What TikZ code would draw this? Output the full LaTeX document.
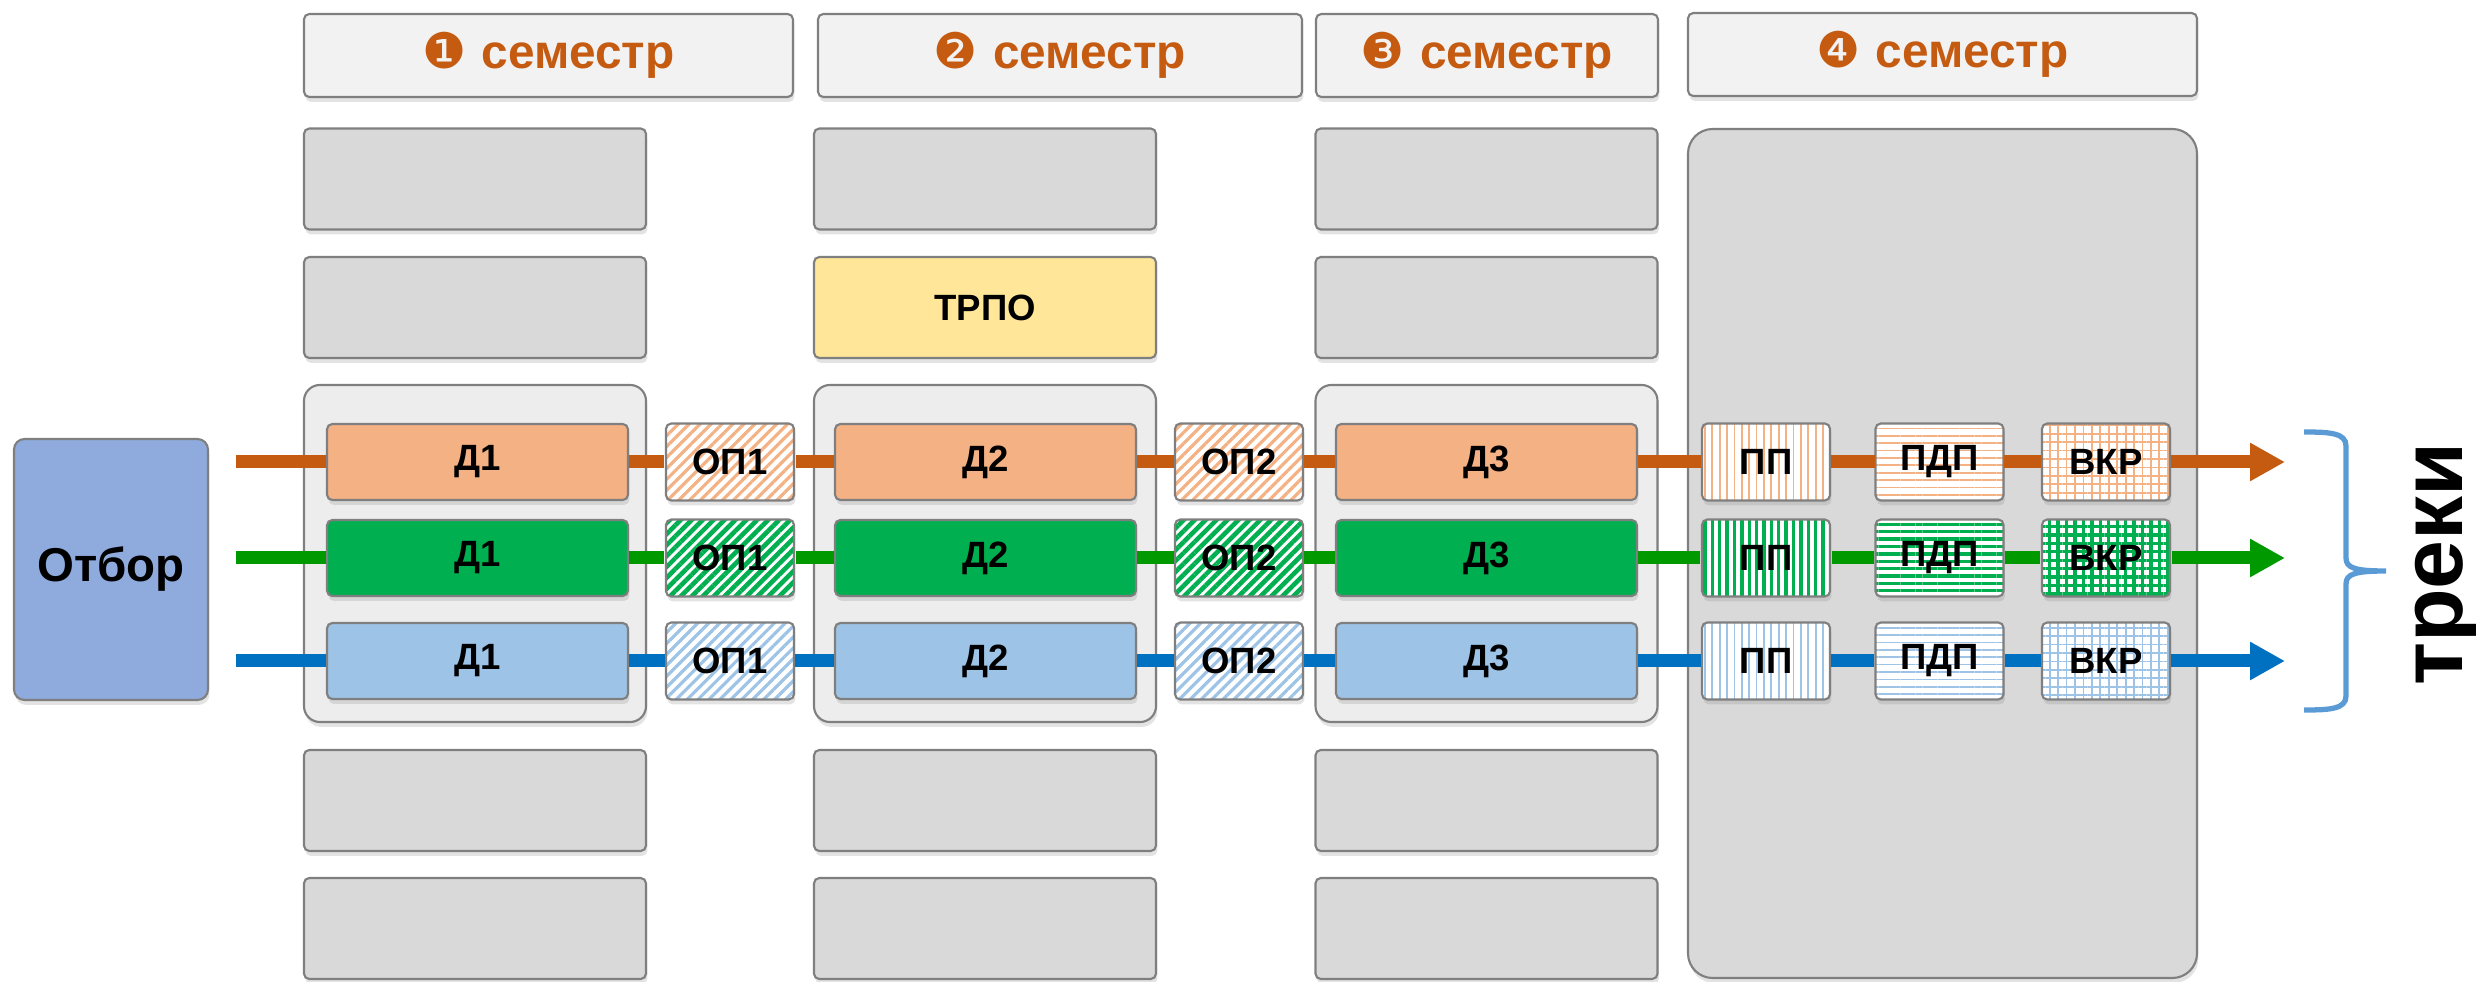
\documentclass[tikz,border=0pt]{standalone}
\usepackage{fontspec}
\setmainfont{Liberation Sans}
\newfontfamily\dingfont{DejaVu Sans}
\usepackage{tikz}
\usetikzlibrary{arrows.meta, positioning, shadows, patterns.meta}
\definecolor{semorange}{HTML}{C55A11}
\definecolor{hdrfill}{HTML}{F2F2F2}
\definecolor{slotgrey}{HTML}{D9D9D9}
\definecolor{trackbg}{HTML}{EDEDED}
\definecolor{edgegrey}{HTML}{7F7F7F}
\definecolor{selblue}{HTML}{8FAADC}
\definecolor{trpoyellow}{HTML}{FFE699}
\definecolor{lineorange}{HTML}{C55A11}
\definecolor{fillorange}{HTML}{F4B183}
\definecolor{linegreen}{HTML}{009A00}
\definecolor{fillgreen}{HTML}{00B050}
\definecolor{lineblue}{HTML}{0070C0}
\definecolor{fillblue}{HTML}{9DC3E6}
\definecolor{bracebl}{HTML}{5B9BD5}

\begin{document}
\begin{tikzpicture}[
    x=1cm, y=-1cm,
    base/.style={rectangle, draw=edgegrey, line width=0.6pt, rounded corners=1.5pt, inner sep=0pt, align=center, drop shadow={opacity=0.22, shadow xshift=0.4pt, shadow yshift=-1.4pt}, font=\fontsize{10.4}{12}\selectfont\bfseries},
    header/.style={base, fill=hdrfill, minimum height=0.83cm, text=semorange, font=\fontsize{13.6}{15}\selectfont\bfseries},
    slot/.style={base, fill=slotgrey, minimum width=3.42cm, minimum height=1.01cm},
    track/.style={base, fill=trackbg, rounded corners=4.5pt, minimum width=3.42cm, minimum height=3.37cm},
    disc/.style={base, minimum width=3.01cm, minimum height=0.76cm},
    practice/.style={base, minimum width=1.28cm, minimum height=0.77cm, preaction={fill=white}},
    line/.style={line width=0.13cm}
  ]
    \useasboundingbox (0,0) rectangle (24.76,9.82);

    % semester headers
    \node (hd1) [header, minimum width=4.89cm] at (5.485,0.555) {{\dingfont\mdseries\fontsize{14}{14}\selectfont ❶}\hspace{0.15cm}семестр};
    \node (hd2) [header, minimum width=4.84cm] at (10.60,0.555) {{\dingfont\mdseries\fontsize{14}{14}\selectfont ❷}\hspace{0.15cm}семестр};
    \node (hd3) [header, minimum width=3.42cm] at (14.87,0.555) {{\dingfont\mdseries\fontsize{14}{14}\selectfont ❸}\hspace{0.15cm}семестр};
    \node (hd4) [header, minimum width=5.09cm] at (19.425,0.545) {{\dingfont\mdseries\fontsize{14}{14}\selectfont ❹}\hspace{0.15cm}семестр};

    % empty slots
    \node (g1-1) [slot] at (4.75,1.79) {};
    \node (g1-2) [slot] at (4.75,3.075) {};
    \node (g1-4) [slot] at (4.75,8.005) {};
    \node (g1-5) [slot] at (4.75,9.285) {};
    \node (g2-1) [slot] at (9.85,1.79) {};
    \node (trpo) [slot, fill=trpoyellow] at (9.85,3.075) {ТРПО};
    \node (g2-4) [slot] at (9.85,8.005) {};
    \node (g2-5) [slot] at (9.85,9.285) {};
    \node (g3-1) [slot] at (14.865,1.79) {};
    \node (g3-2) [slot] at (14.865,3.075) {};
    \node (g3-4) [slot] at (14.865,8.005) {};
    \node (g3-5) [slot] at (14.865,9.285) {};

    % track containers
    \node (box1) [track] at (4.75,5.535) {};
    \node (box2) [track] at (9.85,5.535) {};
    \node (box3) [track] at (14.865,5.535) {};
    \node (box4) [track, fill=slotgrey, rounded corners=7pt, minimum width=5.09cm, minimum height=8.49cm] at (19.425,5.535) {};

    \node (select) [base, fill=selblue, rounded corners=3pt, minimum width=1.94cm, minimum height=2.61cm, font=\fontsize{13.5}{16}\selectfont\bfseries] at (1.11,5.695) {Отбор};

    % three tracks
    \foreach \t/\y/\lc/\fc/\sw/\pw in {o/4.62/lineorange/fillorange/0.9pt/0.5pt, g/5.58/linegreen/fillgreen/1.3pt/0.95pt, b/6.61/lineblue/fillblue/0.9pt/0.5pt} {
      \coordinate (s-\t) at (2.36,\y);
      \coordinate (e-\t) at (22.85,\y);
      \node (d1-\t) [disc, fill=\fc] at (4.775,\y) {Д1};
      \node (op1-\t) [practice, pattern={Lines[angle=45, distance=2.2pt, line width=\sw]}, pattern color=\fc] at (7.30,\y) {ОП1};
      \node (d2-\t) [disc, fill=\fc] at (9.855,\y) {Д2};
      \node (op2-\t) [practice, pattern={Lines[angle=45, distance=2.2pt, line width=\sw]}, pattern color=\fc] at (12.39,\y) {ОП2};
      \node (d3-\t) [disc, fill=\fc] at (14.865,\y) {Д3};
      \node (pp-\t) [practice, pattern={Lines[angle=90, distance=2.1pt, line width=\pw]}, pattern color=\fc] at (17.66,\y) {ПП};
      \node (pdp-\t) [practice, pattern={Lines[angle=0, distance=2.1pt, line width=\pw]}, pattern color=\fc] at (19.395,\y) {ПДП};
      \node (vkr-\t) [practice, pattern={Hatch[angle=0, distance=2.4pt, line width=\pw]}, pattern color=\fc] at (21.06,\y) {ВКР};
      \draw[line, \lc] (s-\t) -- (d1-\t) -- (op1-\t) -- (d2-\t) -- (op2-\t) -- (d3-\t) -- (pp-\t) -- (pdp-\t) -- (vkr-\t);
      \draw[line, \lc, -{Triangle[length=0.35cm, width=0.36cm]}] (vkr-\t) -- (e-\t);
    }

    % brace and label
    \draw[bracebl, line width=1.5pt] (23.04,4.32) .. controls (23.30,4.32) and (23.46,4.33) .. (23.46,4.46)
      -- (23.46,5.58) .. controls (23.46,5.68) and (23.55,5.71) .. (23.86,5.71)
      .. controls (23.55,5.71) and (23.46,5.74) .. (23.46,5.84)
      -- (23.46,6.96) .. controls (23.46,7.09) and (23.30,7.10) .. (23.04,7.10);
    \node (tracks) [rotate=90, anchor=base, font=\fontsize{25}{29}\selectfont\bfseries] at (24.62,5.64) {треки};
  \end{tikzpicture}
\end{document}
